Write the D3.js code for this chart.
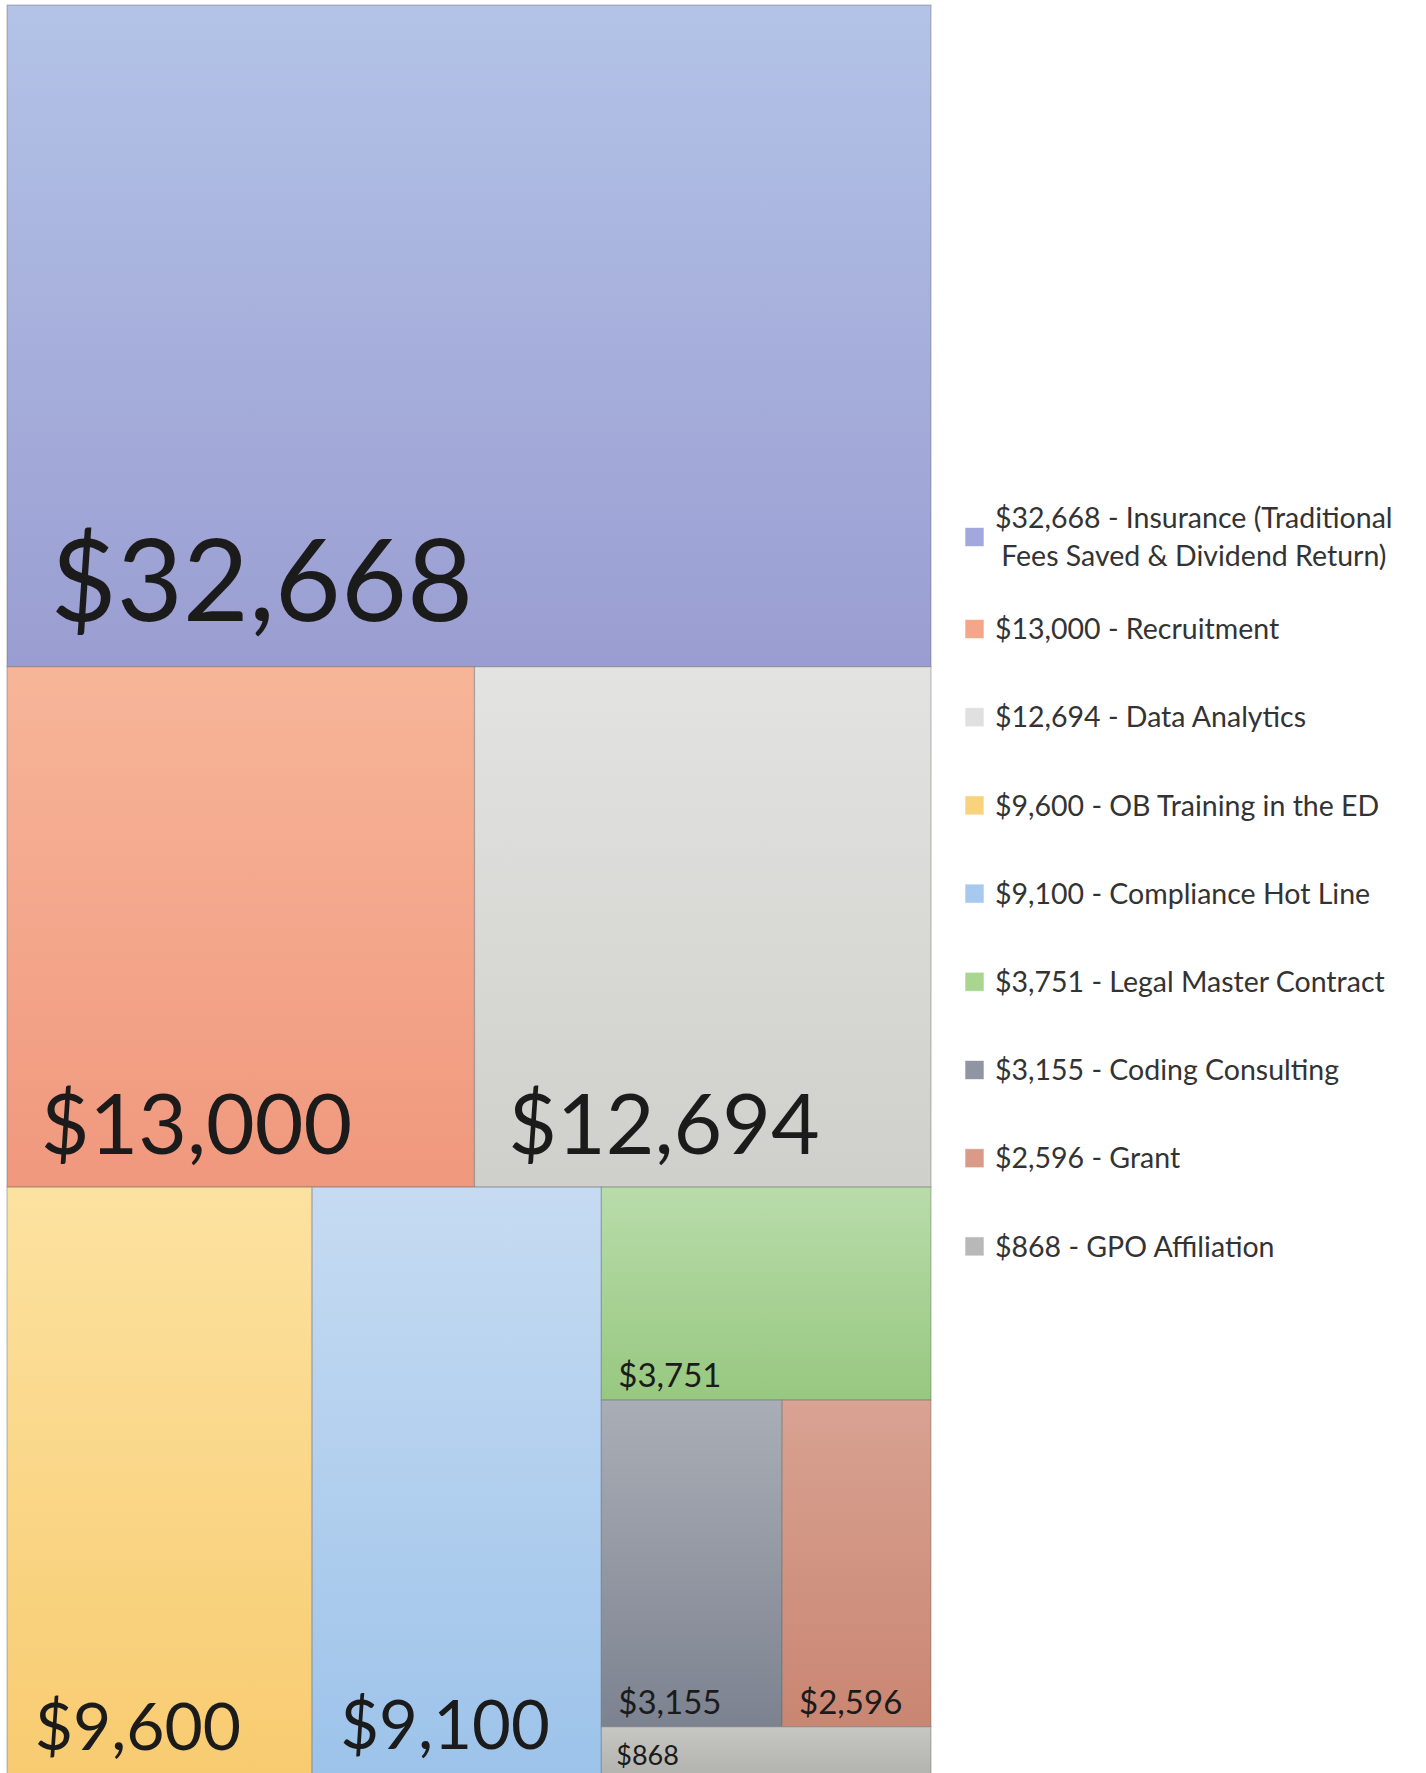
<!DOCTYPE html>
<html>
<head>
<meta charset="utf-8">
<script src="https://cdn.jsdelivr.net/npm/d3@7"></script>
<style>
  html, body { margin: 0; padding: 0; background: #ffffff; }
  svg { display: block; }
</style>
</head>
<body>
<svg id="chart" width="1426" height="1773"></svg>
<script>
// Savings by program
const categories = [
  "Insurance (Traditional Fees Saved & Dividend Return)",
  "Recruitment",
  "Data Analytics",
  "OB Training in the ED",
  "Compliance Hot Line",
  "Legal Master Contract",
  "Coding Consulting",
  "Grant",
  "GPO Affiliation"
];
const values = [32668, 13000, 12694, 9600, 9100, 3751, 3155, 2596, 868];

// How the tiles nest: rows stacked top to bottom, cells side by side, alternating
const tileGroups = [[0], [1, 2], [3, 4, [5, [6, 7], 8]]];

// Fill gradients (top, bottom) and legend swatch colour for each category
const palette = [
  { top: "#b3c3e7", bottom: "#9a9dd1", swatch: "#a3a8dc" },
  { top: "#f7b598", bottom: "#f0987e", swatch: "#f4a58a" },
  { top: "#e3e3e1", bottom: "#cfcfcb", swatch: "#e0e0e0" },
  { top: "#fce2a0", bottom: "#f8cb70", swatch: "#f8d37e" },
  { top: "#c6dbf2", bottom: "#9dc3ea", swatch: "#a8c8ee" },
  { top: "#b9dcaa", bottom: "#97c880", swatch: "#a8d590" },
  { top: "#a9aeb6", bottom: "#7d8290", swatch: "#8f95a3" },
  { top: "#d9a292", bottom: "#c98672", swatch: "#d99a88" },
  { top: "#c6c6c2", bottom: "#b2b2ae", swatch: "#b8b8b8" }
];
const labelSizes = [114, 84, 84, 66, 67, 33, 33, 33, 27];

const fmt = v => "$" + d3.format(",")(v);

const svg = d3.select("#chart");
const plot = { x: 7, y: 5, w: 924, h: 1771 };

// Build the hierarchy from the nesting description
function toNode(g) {
  if (Array.isArray(g)) return { children: g.map(toNode) };
  return { index: g, name: categories[g], value: values[g] };
}
const root = d3.hierarchy(toNode(tileGroups))
  .sum(d => d.value || 0);

// Even depths stack vertically, odd depths sit side by side
const tile = (node, x0, y0, x1, y1) =>
  (node.depth % 2 === 0 ? d3.treemapSlice : d3.treemapDice)(node, x0, y0, x1, y1);

d3.treemap().tile(tile).size([plot.w, plot.h]).round(false)(root);

const defs = svg.append("defs");
palette.forEach((p, i) => {
  const g = defs.append("linearGradient")
    .attr("id", "grad" + i)
    .attr("x1", 0).attr("y1", 0).attr("x2", 0).attr("y2", 1);
  g.append("stop").attr("offset", "0%").attr("stop-color", p.top);
  g.append("stop").attr("offset", "100%").attr("stop-color", p.bottom);
});

const gPlot = svg.append("g").attr("transform", `translate(${plot.x},${plot.y})`);
const leaves = root.leaves();

const cell = gPlot.selectAll("g.cell")
  .data(leaves)
  .join("g")
  .attr("class", "cell");

cell.append("rect")
  .attr("x", d => d.x0)
  .attr("y", d => d.y0)
  .attr("width", d => d.x1 - d.x0)
  .attr("height", d => d.y1 - d.y0)
  .attr("fill", d => `url(#grad${d.data.index})`)
  .attr("stroke", "rgba(90,90,90,0.35)")
  .attr("stroke-width", 1.2);

cell.append("text")
  .attr("x", d => d.x0 + 0.33 * labelSizes[d.data.index] + 6)
  .attr("y", d => d.y1 - 0.4 * labelSizes[d.data.index])
  .attr("font-family", "Lato, 'Open Sans', sans-serif")
  .attr("font-size", d => labelSizes[d.data.index])
  .attr("fill", "#1b1b1b")
  .text(d => fmt(d.data.value));

// Legend
const legend = svg.append("g").attr("class", "legend");
const lgX = 965, swatch = 19, textX = 995, lineH = 38;
const lgFont = 28.5, maxTextW = 1422 - textX;
let y = 537;

categories.forEach((name, i) => {
  const item = legend.append("g");
  const t = item.append("text")
    .attr("font-family", "Lato, 'Open Sans', sans-serif")
    .attr("font-size", lgFont)
    .attr("fill", "#333333");
  // wrap the label to the available width
  const words = (fmt(values[i]) + " - " + name).split(" ");
  const lines = [];
  let cur = "";
  const probe = t.append("tspan");
  words.forEach(w => {
    const test = cur ? cur + " " + w : w;
    probe.text(test);
    if (probe.node().getComputedTextLength() > maxTextW && cur) {
      lines.push(cur);
      cur = w;
    } else cur = test;
  });
  lines.push(cur);
  probe.remove();

  if (i > 0) y += (i === 1 ? 92 : 88.2);
  const firstW = (() => {
    const s = t.append("tspan").text(lines[0]);
    const w = s.node().getComputedTextLength();
    s.remove();
    return w;
  })();
  const cx = textX + firstW / 2;
  lines.forEach((ln, k) => {
    t.append("tspan")
      .attr("x", cx)
      .attr("text-anchor", "middle")
      .attr("y", y + (k - (lines.length - 1) / 2) * lineH)
      .attr("dy", "0.36em")
      .text(ln);
  });
  item.append("rect")
    .attr("x", lgX)
    .attr("y", y - swatch / 2)
    .attr("width", swatch)
    .attr("height", swatch)
    .attr("fill", palette[i].swatch)
    .attr("stroke", "rgba(255,255,255,0.6)")
    .attr("stroke-width", 1);
});
</script>
</body>
</html>
